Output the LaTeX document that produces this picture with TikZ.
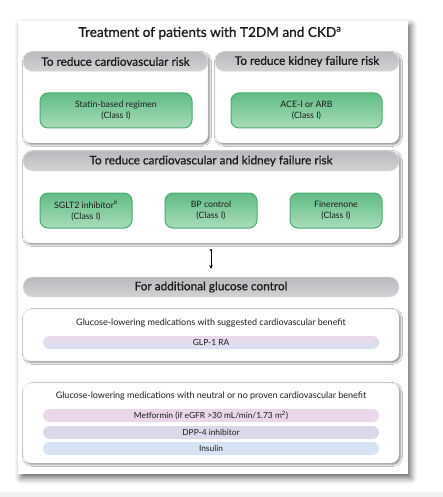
\documentclass[tikz,border=0pt]{standalone}
\usepackage{fontspec}
\setmainfont{Lato}
\newfontfamily\medfont{Lato}[FakeBold=0.9]
\usetikzlibrary{arrows.meta,shadows.blur}
\definecolor{txt}{HTML}{1C1C1C}
\definecolor{hdrtop}{HTML}{B9B9BD}
\definecolor{hdrbot}{HTML}{D3D3D6}
\definecolor{grtop}{HTML}{62BC86}
\definecolor{grbot}{HTML}{A9DCB9}
\definecolor{grline}{HTML}{4AAB73}
\definecolor{pinkb}{HTML}{EAD7E9}
\definecolor{lavb}{HTML}{DDD7EA}
\definecolor{blueb}{HTML}{D6E3F3}
\definecolor{stripc}{HTML}{EFEFEF}
\begin{document}
\begin{tikzpicture}[x=1pt,y=-1pt,
  every node/.style={text=txt, inner sep=0pt, outer sep=0pt},
  panel/.style={fill=white, draw=none, minimum width=390pt, minimum height=453pt,
    blur shadow={shadow xshift=3pt, shadow yshift=-4pt, shadow blur radius=6pt, shadow opacity=60}},
  bigbox/.style={fill=white, draw=gray!25, line width=0.4pt, rounded corners=8pt,
    blur shadow={shadow xshift=1.5pt, shadow yshift=-1.5pt, shadow blur radius=2pt, shadow opacity=50}},
  hdr/.style={rounded corners=9.5pt, top color=hdrtop, bottom color=hdrbot, draw=gray!20,
    minimum height=20pt, font=\medfont\fontsize{11.8}{13}\selectfont},
  greenbox/.style={rounded corners=8pt, draw=grline, line width=1pt, top color=grtop, bottom color=grbot,
    minimum height=35pt, align=center, font=\fontsize{8.8}{11}\selectfont},
  band/.style={rounded corners=6.5pt, minimum width=336pt, minimum height=13pt, font=\fontsize{8.4}{9}\selectfont},
  body/.style={font=\fontsize{9}{10}\selectfont}
]
\useasboundingbox (0,0) rectangle (443,497);
\fill[stripc] (0,492) rectangle (443,497);
% main panel
\node[panel] (panel) at (213,247.5) {};
\node[font=\medfont\fontsize{13.6}{15}\selectfont] (title) at (210,33) {Treatment of patients with T2DM and CKD\textsuperscript{a}};
% top left box
\node[bigbox, minimum width=185pt, minimum height=91pt] (L) at (115.5,97.5) {};
\node[hdr, minimum width=185pt] (Lh) at (115.5,61.5) {To reduce cardiovascular risk};
\node[greenbox, minimum width=152pt] (statin) at (116,110.5) {Statin-based regimen\\(Class I)};
% top right box
\node[bigbox, minimum width=184pt, minimum height=91pt] (R) at (307,97.5) {};
\node[hdr, minimum width=184pt] (Rh) at (307,61.5) {To reduce kidney failure risk};
\node[greenbox, minimum width=151pt] (ace) at (306.5,110.5) {ACE-I or ARB\\(Class I)};
% middle box
\node[bigbox, minimum width=376pt, minimum height=92pt] (M) at (211,197) {};
\node[hdr, minimum width=376pt] (Mh) at (211,161) {To reduce cardiovascular and kidney failure risk};
\node[greenbox, minimum width=92pt] (sglt) at (86,210.5) {SGLT2 inhibitor\textsuperscript{\textit{b}}\\(Class I)};
\node[greenbox, minimum width=92pt] (bp) at (211,210.5) {BP control\\(Class I)};
\node[greenbox, minimum width=92pt] (fin) at (336,210.5) {Finerenone\\(Class I)};
% glucose header
\node[hdr, minimum width=376pt] (G) at (211,287) {For additional glucose control};
\draw[line width=0.6pt, {Circle[length=2.2pt]}-{Stealth[length=4pt,width=3.5pt]}] ([yshift=-6pt]M.south) -- ([yshift=8pt]G.north);
% GLP box
\node[bigbox, minimum width=376pt, minimum height=52pt] (B1) at (211,335) {};
\node[body] (t1) at (211,323) {Glucose-lowering medications with suggested cardiovascular benefit};
\node[band, top color=pinkb, bottom color=blueb] (glp) at (211,342.5) {GLP-1 RA};
% neutral box
\node[bigbox, minimum width=376pt, minimum height=80pt] (B2) at (211,423) {};
\node[body] (t2) at (211,396) {Glucose-lowering medications with neutral or no proven cardiovascular benefit};
\node[band, fill=pinkb] (met) at (211,415.5) {Metformin (if eGFR >30 mL/min/1.73 m\textsuperscript{2})};
\node[band, fill=lavb] (dpp) at (211,432.5) {DPP-4 inhibitor};
\node[band, fill=blueb] (ins) at (211,448.5) {Insulin};
\end{tikzpicture}
\end{document}
